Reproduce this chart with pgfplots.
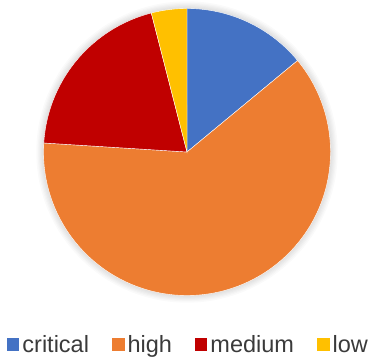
\documentclass[border=0pt]{standalone}
\usepackage{pgfplots}
\usepackage{pgfplotstable}
\pgfplotsset{compat=1.18}
\usepackage{fontspec}
\setmainfont{Liberation Sans}
\definecolor{cblue}{HTML}{4472C4}
\definecolor{corange}{HTML}{ED7D31}
\definecolor{cred}{HTML}{C00000}
\definecolor{cyellow}{HTML}{FFC000}
\definecolor{textgray}{HTML}{3A3A3A}
\pgfplotstableread{
label value
critical 14
high 62
medium 20
low 4
}\piedata
\begin{document}
\begin{tikzpicture}
\pgfplotstablegetelem{0}{value}\of\piedata \let\vA\pgfplotsretval
\pgfplotstablegetelem{1}{value}\of\piedata \let\vB\pgfplotsretval
\pgfplotstablegetelem{2}{value}\of\piedata \let\vC\pgfplotsretval
\pgfplotstablegetelem{3}{value}\of\piedata \let\vD\pgfplotsretval
\pgfmathsetmacro\tot{\vA+\vB+\vC+\vD}
\pgfmathsetmacro\aZ{90}
\pgfmathsetmacro\aA{90-360*(\vA/\tot)}
\pgfmathsetmacro\aB{\aA-360*(\vB/\tot)}
\pgfmathsetmacro\aC{\aB-360*(\vC/\tot)}
\pgfmathsetmacro\aD{\aC-360*(\vD/\tot)}
\begin{axis}[
  scale only axis, width=374pt, height=359pt,
  xmin=-1.3031, xmax=1.3031, ymin=-1.4425, ymax=1.0592,
  hide axis, clip=false,
  legend columns=4,
  legend image code/.code={\fill[#1,draw=none] (0pt,-6pt) rectangle (12.5pt,6.5pt);},
  legend style={at={(rel axis cs:0.505,0)}, anchor=south, draw=none, fill=none,
    font=\fontsize{23.5}{26}\selectfont, text=textgray,
    nodes={inner sep=3pt},
    /tikz/every even column/.append style={column sep=20pt}},
]
\path (rel axis cs:0,0) rectangle (rel axis cs:1,1);
\pgfplotsinvokeforeach{1.008,1.016,1.024,1.032,1.04,1.05}{
  \fill[black,opacity=0.02] (0,0) circle[radius=#1];
}
\addplot[fill=cblue, draw=white, line width=0.4pt, domain=\aA:\aZ, samples=60] ({cos(x)},{sin(x)}) -- (0,0) -- cycle;
\addlegendentry{critical}
\addplot[fill=corange, draw=white, line width=0.4pt, domain=\aB:\aA, samples=200] ({cos(x)},{sin(x)}) -- (0,0) -- cycle;
\addlegendentry{high}
\addplot[fill=cred, draw=white, line width=0.4pt, domain=\aC:\aB, samples=80] ({cos(x)},{sin(x)}) -- (0,0) -- cycle;
\addlegendentry{medium}
\addplot[fill=cyellow, draw=white, line width=0.4pt, domain=\aD:\aC, samples=20] ({cos(x)},{sin(x)}) -- (0,0) -- cycle;
\addlegendentry{low}
\end{axis}
\end{tikzpicture}
\end{document}
